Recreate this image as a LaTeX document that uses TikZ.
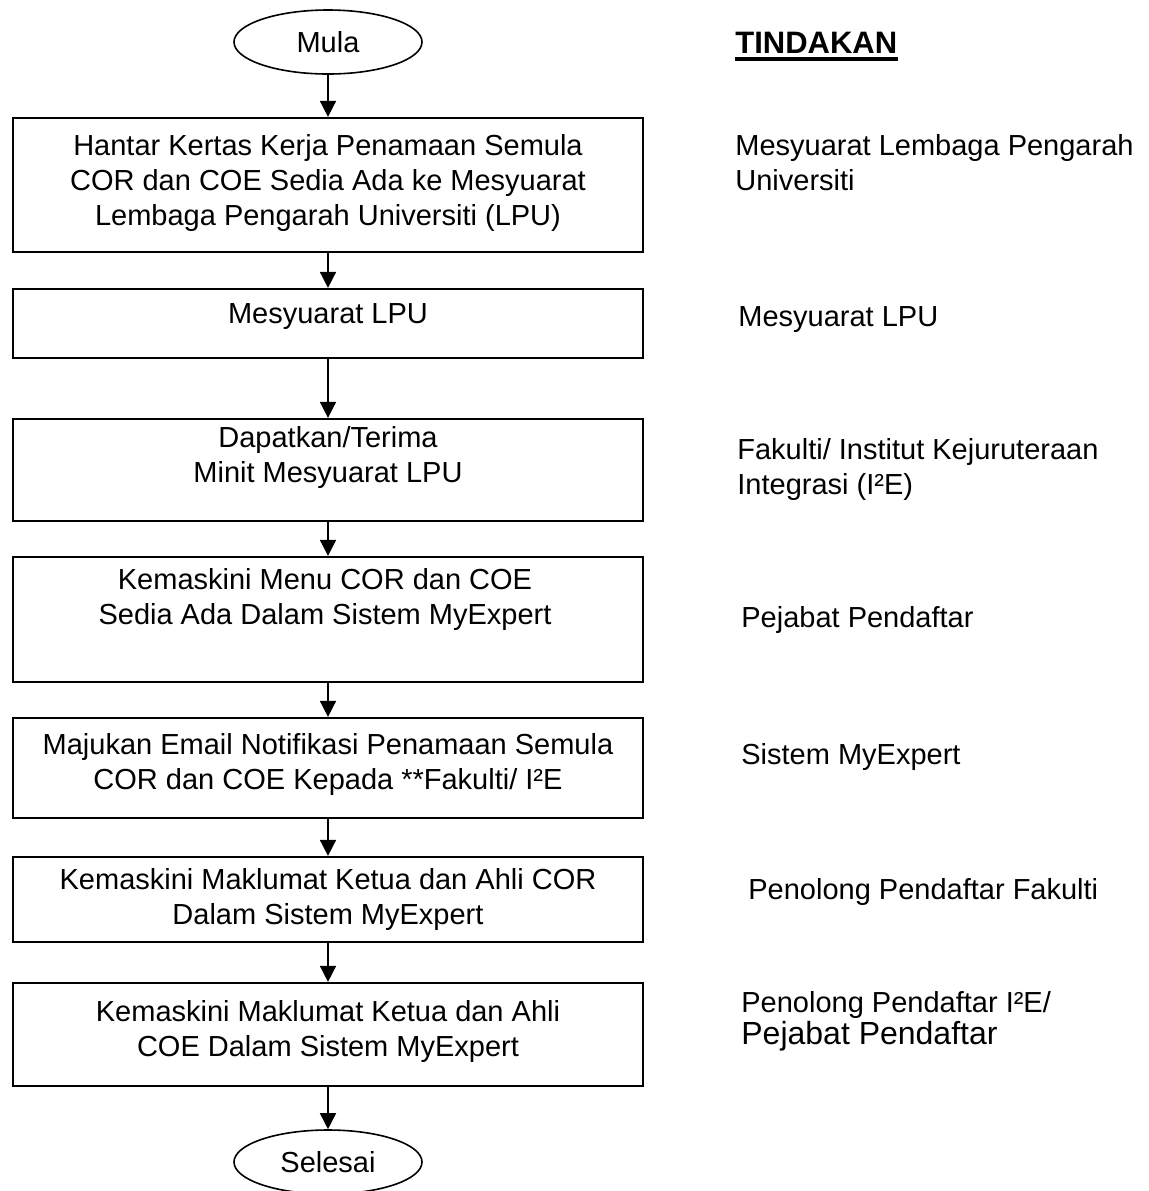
\documentclass[tikz,border=0pt]{standalone}
\usepackage{fontspec}
\setmainfont{Liberation Sans}
\usetikzlibrary{shapes.geometric,arrows.meta}
\tikzset{
	stepbox/.style  = {draw, line width=1.1pt, rectangle, minimum width=315pt, inner sep=0pt},
	term/.style     = {draw, ellipse, line width=0.8pt, minimum width=94pt,
		minimum height=32pt, inner sep=0pt},
	steptext/.style = {align=center, inner sep=0pt}, % text inside a box
	who/.style      = {anchor=west, align=left, inner sep=0pt} % TINDAKAN column
}
\newcommand{\bigger}{\fontsize{16}{19}\selectfont}

\begin{document}
\begin{tikzpicture}[x=0.5pt, y=-0.5pt, >={Triangle[length=8pt,width=8pt]},
	font=\fontsize{14.5}{17.5}\selectfont]
	\useasboundingbox (0,0) rectangle (1149,1191);
	\draw
	node at (328,42) [term] (mula) {Mula}
	node at (328,185) [stepbox, minimum height=67pt] (b1) {}
	node at (328,323.5) [stepbox, minimum height=34.5pt] (b2) {}
	node at (328,470) [stepbox, minimum height=51pt] (b3) {}
	node at (328,619.5) [stepbox, minimum height=62.5pt] (b4) {}
	node at (328,768) [stepbox, minimum height=50pt] (b5) {}
	node at (328,899.5) [stepbox, minimum height=42.5pt] (b6) {}
	node at (328,1034.5) [stepbox, minimum height=51.5pt] (b7) {}
	node at (328,1162) [term] (selesai) {Selesai};

	\draw
	node at (328,183) [steptext] (t1) {Hantar Kertas Kerja Penamaan Semula\\COR dan COE Sedia Ada ke Mesyuarat\\Lembaga Pengarah Universiti (LPU)}
	node at (328,317) [steptext] (t2) {Mesyuarat LPU}
	node at (328,457) [steptext] (t3) {Dapatkan/Terima\\Minit Mesyuarat LPU}
	node at (325,599) [steptext] (t4) {Kemaskini Menu COR dan COE\\Sedia Ada Dalam Sistem MyExpert}
	node at (328,764) [steptext] (t5) {Majukan Email Notifikasi Penamaan Semula\\COR dan COE Kepada **Fakulti/ I²E}
	node at (328,899) [steptext] (t6) {Kemaskini Maklumat Ketua dan Ahli COR\\Dalam Sistem MyExpert}
	node at (328,1031) [steptext] (t7) {Kemaskini Maklumat Ketua dan Ahli\\COE Dalam Sistem MyExpert};

	\draw
	node at (735,43) [who, font=\bfseries\fontsize{15.5}{18}\selectfont] (tind) {TINDAKAN}
	node at (735,163) [who] (w1) {Mesyuarat Lembaga Pengarah\\Universiti}
	node at (738,320) [who] (w2) {Mesyuarat LPU}
	node at (737,469) [who] (w3) {Fakulti/ Institut Kejuruteraan\\Integrasi (I²E)}
	node at (741,620) [who] (w4) {Pejabat Pendaftar}
	node at (741,757) [who] (w5) {Sistem MyExpert}
	node at (748,892) [who] (w6) {Penolong Pendaftar Fakulti}
	node at (741,1005) [who] (w7) {Penolong Pendaftar I²E/}
	node at (741,1036) [who, font=\bigger] (w8) {Pejabat Pendaftar};
	\draw[line width=2pt] ([yshift=-2.8pt]tind.base west)--([yshift=-2.8pt]tind.base east);

	\draw[->, line width=0.8pt](mula)--(b1);
	\draw[->, line width=0.8pt](b1)--(b2);
	\draw[->, line width=0.8pt](b2)--(b3);
	\draw[->, line width=0.8pt](b3)--(b4);
	\draw[->, line width=0.8pt](b4)--(b5);
	\draw[->, line width=0.8pt](b5)--(b6);
	\draw[->, line width=0.8pt](b6)--(b7);
	\draw[->, line width=0.8pt](b7)--(selesai);
\end{tikzpicture}
\end{document}
